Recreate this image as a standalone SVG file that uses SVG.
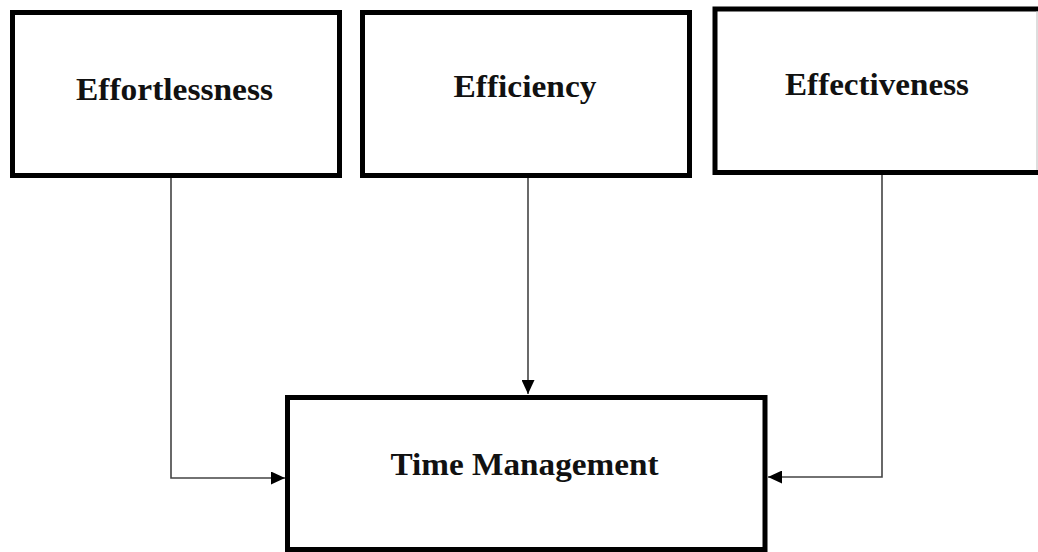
<svg xmlns="http://www.w3.org/2000/svg" width="1038" height="552" viewBox="0 0 1038 552">
<style>
.box{fill:#fff;stroke:#000;stroke-width:5}
.lbl{font-family:"Liberation Serif","Times New Roman",serif;font-weight:bold;font-size:31.5px;fill:#111;text-anchor:middle}
.conn{fill:none;stroke:#444;stroke-width:1.6}
</style>
<defs>
<marker id="arr" viewBox="0 0 14 13" refX="14" refY="6.5" markerWidth="14" markerHeight="13" markerUnits="userSpaceOnUse" orient="auto">
<path d="M0,0 L14,6.5 L0,13 Z" fill="#000"/>
</marker>
</defs>
<rect width="1038" height="552" fill="#fff"/>
<g id="connectors">
<path class="conn" d="M171,178 V478 H285" marker-end="url(#arr)"/>
<path class="conn" d="M528,178 V394" marker-end="url(#arr)"/>
<path class="conn" d="M882,175 V477 H768" marker-end="url(#arr)"/>
</g>
<g id="effortlessness">
<rect class="box" x="12.5" y="12.5" width="327" height="163"/>
<text class="lbl" x="174.5" y="100" textLength="197" lengthAdjust="spacingAndGlyphs">Effortlessness</text>
</g>
<g id="efficiency">
<rect class="box" x="362.5" y="12.5" width="327" height="163"/>
<text class="lbl" x="525" y="97" textLength="143" lengthAdjust="spacingAndGlyphs">Efficiency</text>
</g>
<g id="effectiveness">
<rect class="box" x="715" y="9" width="326" height="163.5"/>
<line x1="1037" y1="11" x2="1037" y2="170" stroke="#bbb" stroke-width="1"/>
<text class="lbl" x="877" y="95" textLength="184" lengthAdjust="spacingAndGlyphs">Effectiveness</text>
</g>
<g id="time-management">
<rect class="box" x="287.5" y="397.5" width="477.5" height="152"/>
<text class="lbl" x="524.5" y="475" textLength="268" lengthAdjust="spacingAndGlyphs">Time Management</text>
</g>
</svg>
